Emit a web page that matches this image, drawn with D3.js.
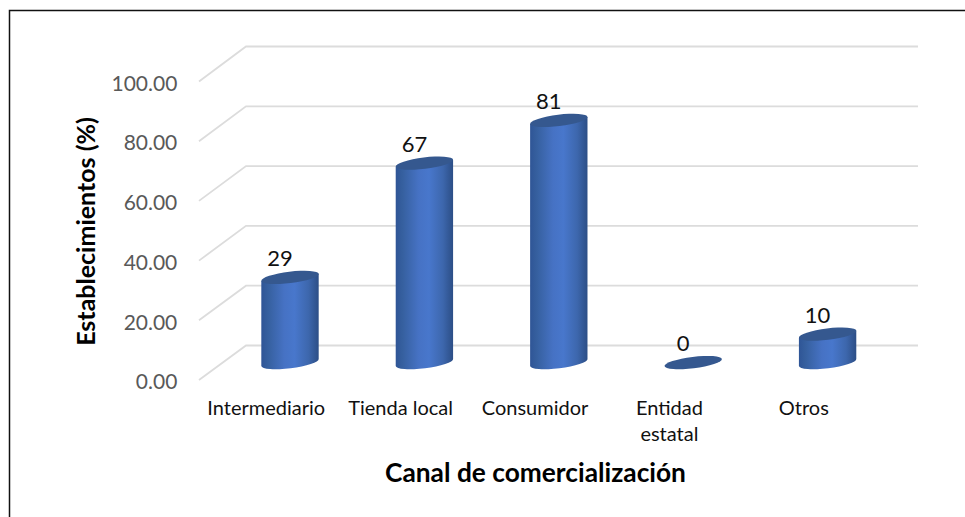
<!DOCTYPE html>
<html>
<head>
<meta charset="utf-8">
<script src="https://cdn.jsdelivr.net/npm/d3@7"></script>
<style>
  html, body { margin: 0; padding: 0; background: #fff; }
  svg { display: block; font-family: Lato, sans-serif; }
</style>
</head>
<body>
<svg id="chart" width="965" height="517"></svg>
<script>
const categories = ['Intermediario', 'Tienda local', 'Consumidor', 'Entidad estatal', 'Otros'];
const values = [28.5, 66.7, 81, 0, 9.5];
const gridTicks = [0, 20, 40, 60, 80, 100];

const width = 965;
const height = 517;
const svg = d3.select('#chart');

// Front edge of the floor carries the axes, back wall carries the gridlines
const frontX = d3.scaleBand().domain(categories).range([199, 871]);
const barX = d3.scaleBand().domain(categories).range([222.8, 894.8]);
const frontY = d3.scaleLinear().domain([0, 100]).range([380, 81.5]);
const backY = d3.scaleLinear().domain([0, 100]).range([345.5, 46.5]);
const barY = d3.scaleLinear().domain([0, 100]).range([362.6, 63.6]);
const backLeft = 246;
const backRight = 918;

// Cylinder cap, a slightly tilted ellipse
const rx = 28.9;
const ry = 5.7;
const tilt = -7;
const dx = rx * Math.cos(tilt * Math.PI / 180);
const dy = rx * Math.sin(tilt * Math.PI / 180);

const defs = svg.append('defs');
const grad = defs.append('linearGradient').attr('id', 'cyl');
[[0, '#2f5596'], [0.12, '#36609f'], [0.4, '#4672c4'], [0.58, '#4877cc'], [0.82, '#3d67ad'], [1, '#2c4e86']]
  .forEach(([o, c]) => grad.append('stop').attr('offset', o).attr('stop-color', c));

// Page frame, only top and left sides are visible
svg.append('path')
  .attr('d', `M9.5 ${height}V10.5H${width}`)
  .attr('fill', 'none')
  .attr('stroke', '#111')
  .attr('stroke-width', 1.5);

// Gridlines
svg.append('g').selectAll('path')
  .data(gridTicks)
  .join('path')
  .attr('d', d => `M${frontX.range()[0]} ${frontY(d)}L${backLeft} ${backY(d)}H${backRight}`)
  .attr('fill', 'none')
  .attr('stroke', '#dcdcdc')
  .attr('stroke-width', 1.8);

// Y axis
const yAxis = svg.append('g')
  .attr('transform', `translate(${frontX.range()[0]},0)`)
  .call(d3.axisLeft(frontY).tickValues(gridTicks).tickFormat(d3.format('.2f')).tickSize(0).tickPadding(21.7));
yAxis.select('.domain').remove();
yAxis.selectAll('text')
  .attr('dy', 8.7)
  .attr('fill', '#595959')
  .style('font-family', 'Lato, sans-serif')
  .style('font-size', '21px');

// X axis
const xAxis = svg.append('g')
  .attr('transform', 'translate(0,390)')
  .call(d3.axisBottom(frontX).tickSize(0).tickPadding(0));
xAxis.select('.domain').remove();
xAxis.selectAll('text')
  .attr('y', 0)
  .attr('dy', 0)
  .attr('fill', '#111')
  .style('font-family', 'Lato, sans-serif')
  .style('font-size', '20px')
  .each(function(d) {
    const text = d3.select(this).text(null);
    const lines = d === 'Entidad estatal' ? d.split(' ') : [d];
    lines.forEach((line, i) => {
      text.append('tspan').attr('x', 0).attr('y', 25 + i * 26).text(line);
    });
  });

// Cylinders
const bars = svg.append('g').selectAll('g')
  .data(categories.map((c, i) => ({ c, v: values[i] })))
  .join('g')
  .attr('transform', d => `translate(${barX(d.c) + barX.bandwidth() / 2},0)`);

bars.filter(d => d.v > 0).append('path')
  .attr('d', d => {
    const b = barY(0);
    const t = barY(d.v);
    return `M${-dx} ${b - dy}L${-dx} ${t - dy}L${dx} ${t + dy}L${dx} ${b + dy}` +
      `A${rx} ${ry} ${tilt} 0 1 ${-dx} ${b - dy}Z`;
  })
  .attr('fill', 'url(#cyl)');

bars.append('ellipse')
  .attr('rx', rx)
  .attr('ry', ry)
  .attr('transform', d => `translate(0,${barY(d.v)}) rotate(${tilt})`)
  .attr('fill', '#35588f');

// Value labels
bars.append('text')
  .attr('x', -10)
  .attr('y', d => barY(d.v) - 11.4)
  .attr('text-anchor', 'middle')
  .attr('fill', '#111')
  .style('font-size', '22px')
  .text(d => Math.round(d.v));

// Axis titles
svg.append('text')
  .attr('transform', 'translate(95,231.5) rotate(-90)')
  .attr('text-anchor', 'middle')
  .attr('fill', '#000')
  .style('font-size', '25px')
  .style('font-weight', 700)
  .text('Establecimientos (%)');

svg.append('text')
  .attr('x', 535.5)
  .attr('y', 481.7)
  .attr('text-anchor', 'middle')
  .attr('fill', '#000')
  .style('font-size', '26.3px')
  .style('font-weight', 700)
  .text('Canal de comercialización');
</script>
</body>
</html>
